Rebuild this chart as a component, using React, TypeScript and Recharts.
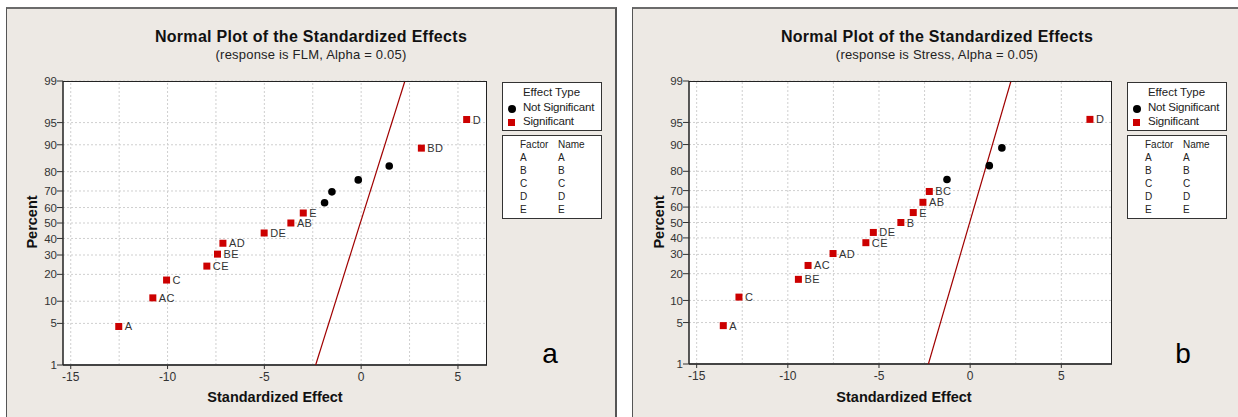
import React from 'react'
import {
  ScatterChart,
  Scatter,
  XAxis,
  YAxis,
  CartesianGrid,
  ReferenceLine
} from 'recharts'

// panel a: FLM
const flmSigNames = ['A', 'AC', 'C', 'CE', 'BE', 'AD', 'DE', 'AB', 'E', 'BD', 'D']
const flmSigEffect = [-12.52, -10.76, -10.05, -7.97, -7.42, -7.14, -5.01, -3.63, -2.99, 3.11, 5.45]
const flmSigPercent = [4.5, 11.0, 17.5, 24.0, 30.5, 37.0, 43.5, 50.0, 56.5, 89.0, 95.5]
const flmNsEffect = [-1.89, -1.51, -0.15, 1.45]
const flmNsPercent = [63.0, 69.5, 76.0, 82.5]
const flmLineEffect = [-2.35, 2.26]
const flmLinePercent = [1, 99]

// panel b: Stress
const stressSigNames = ['A', 'C', 'BE', 'AC', 'AD', 'CE', 'DE', 'B', 'E', 'AB', 'BC', 'D']
const stressSigEffect = [-13.54, -12.68, -9.42, -8.89, -7.52, -5.72, -5.31, -3.8, -3.12, -2.59, -2.24, 6.57]
const stressSigPercent = [4.5, 11.0, 17.5, 24.0, 30.5, 37.0, 43.5, 50.0, 56.5, 63.0, 69.5, 95.5]
const stressNsEffect = [-1.27, 1.05, 1.74]
const stressNsPercent = [76.0, 82.5, 89.0]
const stressLineEffect = [-2.29, 2.24]
const stressLinePercent = [1, 99]

const yTickPercents = [1, 5, 10, 20, 30, 40, 50, 60, 70, 80, 90, 95, 99]
const xTicks = [-15, -10, -5, 0, 5]
const xGridLines = [-15, -12.5, -10, -7.5, -5, -2.5, 0, 2.5, 5]
const factorRows = ['A', 'B', 'C', 'D', 'E']

const FONT = '"Liberation Sans", Arial, sans-serif'
const RED = '#CC0000'
const BG = '#EDE9E4'

// inverse normal cdf (Acklam)
function probit(p: number) {
  const a = [-39.69683028665376, 220.9460984245205, -275.9285104469687, 138.357751867269, -30.66479806614716, 2.506628277459239]
  const b = [-54.47609879822406, 161.5858368580409, -155.6989798598866, 66.80131188771972, -13.28068155211918]
  const c = [-0.007784894002430293, -0.3223964580411365, -2.400758277161838, -2.549732539343734, 4.374664141464968, 2.938163982698783]
  const d = [0.007784695709041462, 0.3224671290700398, 2.445134137142996, 3.754408661907416]
  const pl = 0.02425
  if (p < pl) {
    const q = Math.sqrt(-2 * Math.log(p))
    return (((((c[0] * q + c[1]) * q + c[2]) * q + c[3]) * q + c[4]) * q + c[5]) /
      ((((d[0] * q + d[1]) * q + d[2]) * q + d[3]) * q + 1)
  }
  if (p > 1 - pl) {
    const q = Math.sqrt(-2 * Math.log(1 - p))
    return -(((((c[0] * q + c[1]) * q + c[2]) * q + c[3]) * q + c[4]) * q + c[5]) /
      ((((d[0] * q + d[1]) * q + d[2]) * q + d[3]) * q + 1)
  }
  const q = p - 0.5
  const r = q * q
  return (((((a[0] * r + a[1]) * r + a[2]) * r + a[3]) * r + a[4]) * r + a[5]) * q /
    (((((b[0] * r + b[1]) * r + b[2]) * r + b[3]) * r + b[4]) * r + 1)
}

const yTicks = yTickPercents.map(p => probit(p / 100))
const yDomain = [yTicks[0], yTicks[yTicks.length - 1]]

const SquareShape = (props: any) => {
  const { cx, cy, payload } = props
  return (
    <g>
      <rect x={cx - 3.5} y={cy - 3.5} width={7} height={7} fill={RED} />
      <text x={cx + 6} y={cy + 4} fontSize={11} fontFamily={FONT} fill="#333" letterSpacing={0.4}>
        {payload.name}
      </text>
    </g>
  )
}

const DotShape = (props: any) => <circle cx={props.cx} cy={props.cy} r={3.8} fill="#000" />
const NoShape = () => <g />

interface PanelProps {
  left: number
  width: number
  yAxisWidth: number
  marginRight: number
  marginBottom: number
  xDomain: number[]
  sigNames: string[]
  sigEffect: number[]
  sigPercent: number[]
  nsEffect: number[]
  nsPercent: number[]
  lineEffect: number[]
  linePercent: number[]
}

function Panel(p: PanelProps) {
  const sig = p.sigNames.map((n, i) => ({ name: n, x: p.sigEffect[i], z: probit(p.sigPercent[i] / 100) }))
  const ns = p.nsEffect.map((e, i) => ({ x: e, z: probit(p.nsPercent[i] / 100) }))
  const fit = p.lineEffect.map((e, i) => ({ x: e, z: probit(p.linePercent[i] / 100) }))
  const plotLeft = p.yAxisWidth
  const plotRight = p.width - p.marginRight
  const plotBottom = 417 - p.marginBottom - 30
  const rect: React.CSSProperties = {
    position: 'absolute', left: plotLeft, top: 81, width: plotRight - plotLeft,
    height: plotBottom - 81, boxSizing: 'border-box'
  }

  return (
    <div style={{ position: 'absolute', left: p.left, top: 0, width: p.width, height: 417 }}>
      <div style={{ ...rect, background: '#fff' }} />
      <div style={{ position: 'absolute', left: 0, top: 0 }}>
        <ScatterChart
          width={p.width}
          height={417}
          margin={{ top: 81, right: p.marginRight, bottom: p.marginBottom, left: 0 }}
        >
          <CartesianGrid vertical={false} stroke="#cfcfcf" strokeDasharray="2 2" />
          {xGridLines.map(v => (
            <ReferenceLine key={v} x={v} stroke="#cfcfcf" strokeDasharray="2 2" />
          ))}
          <XAxis
            type="number"
            dataKey="x"
            domain={p.xDomain}
            allowDataOverflow
            ticks={xTicks}
            tickSize={4}
            tickMargin={3}
            height={30}
            stroke="#333"
            axisLine={{ stroke: '#444', strokeWidth: 2 }}
            tick={{ fontSize: 12, fontFamily: FONT, fill: '#333' }}
          />
          <YAxis
            type="number"
            dataKey="z"
            domain={yDomain}
            allowDataOverflow
            ticks={yTicks}
            interval={0}
            width={p.yAxisWidth}
            tickSize={6}
            tickMargin={0}
            stroke="#333"
            axisLine={{ stroke: '#222', strokeWidth: 1.5 }}
            tick={{ fontSize: 11.5, fontFamily: FONT, fill: '#333' }}
            tickFormatter={(v: number) => {
              const i = yTicks.findIndex(t => Math.abs(t - v) < 1e-6)
              return i >= 0 ? String(yTickPercents[i]) : ''
            }}
          />
          <Scatter
            data={fit}
            line={{ stroke: '#A00000', strokeWidth: 1.2 }}
            shape={NoShape}
            isAnimationActive={false}
          />
          <Scatter data={ns} shape={DotShape} isAnimationActive={false} />
          <Scatter data={sig} shape={SquareShape} isAnimationActive={false} />
        </ScatterChart>
      </div>
      <div
        style={{
          ...rect, pointerEvents: 'none',
          borderTop: '1.5px solid #222', borderRight: '1.5px solid #222'
        }}
      />
    </div>
  )
}

interface FrameProps {
  left: number
  width: number
  response: string
  centerX: number
  percentX: number
  effectX: number
  legendLeft: number
  letter: string
  letterX: number
}

function Frame(f: FrameProps) {
  const text: React.CSSProperties = { position: 'absolute', fontFamily: FONT, color: '#111', whiteSpace: 'nowrap' }
  const lw = 100
  return (
    <>
      <div
        style={{
          position: 'absolute', left: f.left, top: 7, width: f.width, height: 420, background: BG,
          boxSizing: 'border-box', borderTop: '2px solid #6b6b6b', borderLeft: '1.5px solid #555',
          borderRight: '2px solid #555'
        }}
      />
      <div style={{ ...text, left: f.centerX - 200, width: 400, top: 28, textAlign: 'center', fontSize: 16, fontWeight: 'bold', letterSpacing: 0.3 }}>
        Normal Plot of the Standardized Effects
      </div>
      <div style={{ ...text, left: f.centerX - 200, width: 400, top: 47, textAlign: 'center', fontSize: 13, letterSpacing: 0.2, color: '#222' }}>
        (response is {f.response}, Alpha = 0.05)
      </div>
      <div style={{ ...text, left: f.percentX - 40, width: 80, top: 214, textAlign: 'center', fontSize: 14.5, fontWeight: 'bold', transform: 'rotate(-90deg)' }}>
        Percent
      </div>
      <div style={{ ...text, left: f.effectX - 100, width: 200, top: 389, textAlign: 'center', fontSize: 14.5, fontWeight: 'bold' }}>
        Standardized Effect
      </div>
      <div style={{ ...text, left: f.letterX - 20, width: 40, top: 336, textAlign: 'center', fontSize: 28, lineHeight: '36px', color: '#000' }}>
        {f.letter}
      </div>
      <div
        style={{
          position: 'absolute', left: f.legendLeft, top: 82, width: lw, height: 49, background: '#fff',
          border: '1.5px solid #333', boxSizing: 'border-box', fontFamily: FONT, fontSize: 11.5, color: '#222'
        }}
      >
        <div style={{ position: 'absolute', left: 0, width: lw - 3, top: 3, textAlign: 'center' }}>Effect Type</div>
        <div style={{ position: 'absolute', left: 5, top: 22, width: 8, height: 8, borderRadius: 4, background: '#000' }} />
        <div style={{ position: 'absolute', left: 20, top: 18, letterSpacing: -0.2 }}>Not Significant</div>
        <div style={{ position: 'absolute', left: 5, top: 36, width: 7, height: 7, background: RED }} />
        <div style={{ position: 'absolute', left: 20, top: 32, letterSpacing: -0.2 }}>Significant</div>
      </div>
      <div
        style={{
          position: 'absolute', left: f.legendLeft, top: 135, width: lw, height: 84, background: '#fff',
          border: '1.5px solid #333', boxSizing: 'border-box', fontFamily: FONT, fontSize: 10, color: '#222'
        }}
      >
        <div style={{ position: 'absolute', left: 17, top: 3 }}>Factor</div>
        <div style={{ position: 'absolute', left: 55, top: 3 }}>Name</div>
        {factorRows.map((r, i) => (
          <React.Fragment key={r}>
            <div style={{ position: 'absolute', left: 17, top: 16 + i * 13 }}>{r}</div>
            <div style={{ position: 'absolute', left: 55, top: 16 + i * 13 }}>{r}</div>
          </React.Fragment>
        ))}
      </div>
    </>
  )
}

export default function App() {
  return (
    <div style={{ position: 'absolute', left: 0, top: 0, width: 1238, height: 417, overflow: 'hidden', background: '#fff' }}>
      <Frame left={6} width={611} response="FLM" centerX={311} percentX={32} effectX={275}
        legendLeft={502} letter="a" letterX={550} />
      <Frame left={632} width={620} response="Stress" centerX={937} percentX={659} effectX={904}
        legendLeft={1127} letter="b" letterX={1183} />
      <Panel
        left={0} width={620} yAxisWidth={63} marginRight={133} marginBottom={22}
        xDomain={[-15.4, 6.5]}
        sigNames={flmSigNames} sigEffect={flmSigEffect} sigPercent={flmSigPercent}
        nsEffect={flmNsEffect} nsPercent={flmNsPercent}
        lineEffect={flmLineEffect} linePercent={flmLinePercent}
      />
      <Panel
        left={620} width={618} yAxisWidth={69} marginRight={126} marginBottom={23}
        xDomain={[-15.42, 7.78]}
        sigNames={stressSigNames} sigEffect={stressSigEffect} sigPercent={stressSigPercent}
        nsEffect={stressNsEffect} nsPercent={stressNsPercent}
        lineEffect={stressLineEffect} linePercent={stressLinePercent}
      />
    </div>
  )
}
